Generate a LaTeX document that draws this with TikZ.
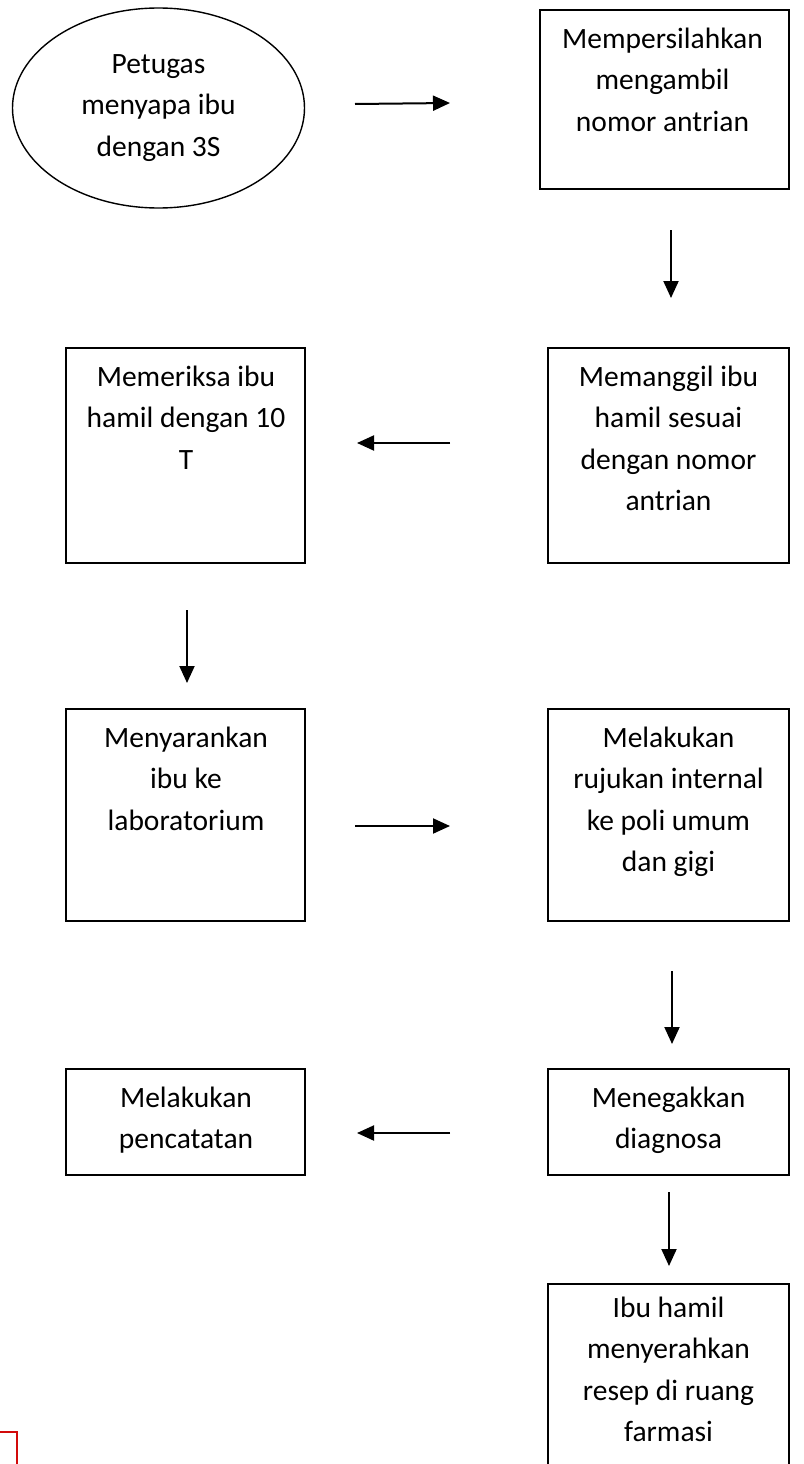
\documentclass[tikz,border=0pt]{standalone}
\usepackage{fontspec}
\setmainfont{Carlito}
\usetikzlibrary{arrows.meta,shapes.geometric}
\begin{document}
\begin{tikzpicture}[x=1pt,y=-1pt,
  box/.style={draw=black,line width=1.4pt,rectangle,inner sep=0pt},
  oval/.style={draw=black,line width=1.4pt,ellipse,inner sep=0pt},
  txt/.style={anchor=base,align=center,inner sep=0pt,font=\fontsize{29.5}{41.5}\selectfont},
  arr/.style={line width=2pt,-{Triangle[length=17pt,width=15pt]}}]
\useasboundingbox (0,0) rectangle (803,1464);
\fill[white] (0,0) rectangle (803,1464);
% shapes
\node[oval,minimum width=292pt,minimum height=200pt] (e1) at (158.5,108) {};
\node[box,minimum width=249pt,minimum height=179pt] (b1) at (664.5,99.5) {};
\node[box,minimum width=241pt,minimum height=215pt] (b2) at (668.5,455.5) {};
\node[box,minimum width=239pt,minimum height=215pt] (b3) at (185.5,455.5) {};
\node[box,minimum width=239pt,minimum height=212pt] (b4) at (185.5,815) {};
\node[box,minimum width=241pt,minimum height=212pt] (b5) at (668.5,815) {};
\node[box,minimum width=241pt,minimum height=106pt] (b6) at (668.5,1122) {};
\node[box,minimum width=239pt,minimum height=106pt] (b7) at (185.5,1122) {};
\node[box,minimum width=241pt,minimum height=184pt] (b8) at (668.5,1376) {};
% texts (anchor = baseline of last line)
\node[txt] (t0) at (158.5,156) {Petugas\\menyapa ibu\\dengan 3S};
\node[txt] (t1) at (662.5,131) {Mempersilahkan\\mengambil\\nomor antrian};
\node[txt] (t2) at (668.5,510.5) {Memanggil ibu\\hamil sesuai\\dengan nomor\\antrian};
\node[txt] (t3) at (186,469) {Memeriksa ibu\\hamil dengan 10\\T};
\node[txt] (t4) at (186,830) {Menyarankan\\ibu ke\\laboratorium};
\node[txt] (t5) at (668.5,871.5) {Melakukan\\rujukan internal\\ke poli umum\\dan gigi};
\node[txt] (t6) at (668.5,1148.5) {Menegakkan\\diagnosa};
\node[txt] (t7) at (186,1148.5) {Melakukan\\pencatatan};
\node[txt] (t8) at (668.5,1441.5) {Ibu hamil\\menyerahkan\\resep di ruang\\farmasi};
% arrow end points
\coordinate (a1s) at (355,104); \coordinate (a1e) at (450,103);
\coordinate (a2s) at (671,230); \coordinate (a2e) at (671,298);
\coordinate (a3s) at (450,443); \coordinate (a3e) at (357,443);
\coordinate (a4s) at (187,610); \coordinate (a4e) at (187,683);
\coordinate (a5s) at (355,826); \coordinate (a5e) at (450,826);
\coordinate (a6s) at (672,971); \coordinate (a6e) at (672,1044);
\coordinate (a7s) at (450,1133); \coordinate (a7e) at (357,1133);
\coordinate (a8s) at (669,1192); \coordinate (a8e) at (669,1266);
\draw[arr] (a1s) -- (a1e);
\draw[arr] (a2s) -- (a2e);
\draw[arr] (a3s) -- (a3e);
\draw[arr] (a4s) -- (a4e);
\draw[arr] (a5s) -- (a5e);
\draw[arr] (a6s) -- (a6e);
\draw[arr] (a7s) -- (a7e);
\draw[arr] (a8s) -- (a8e);
% red corner mark
\coordinate (r1) at (0,1432); \coordinate (r2) at (17,1432); \coordinate (r3) at (17,1464);
\draw[draw={rgb,255:red,210;green,10;blue,10},line width=2.5pt] (r1) -- (r2) -- (r3);
\end{tikzpicture}
\end{document}
